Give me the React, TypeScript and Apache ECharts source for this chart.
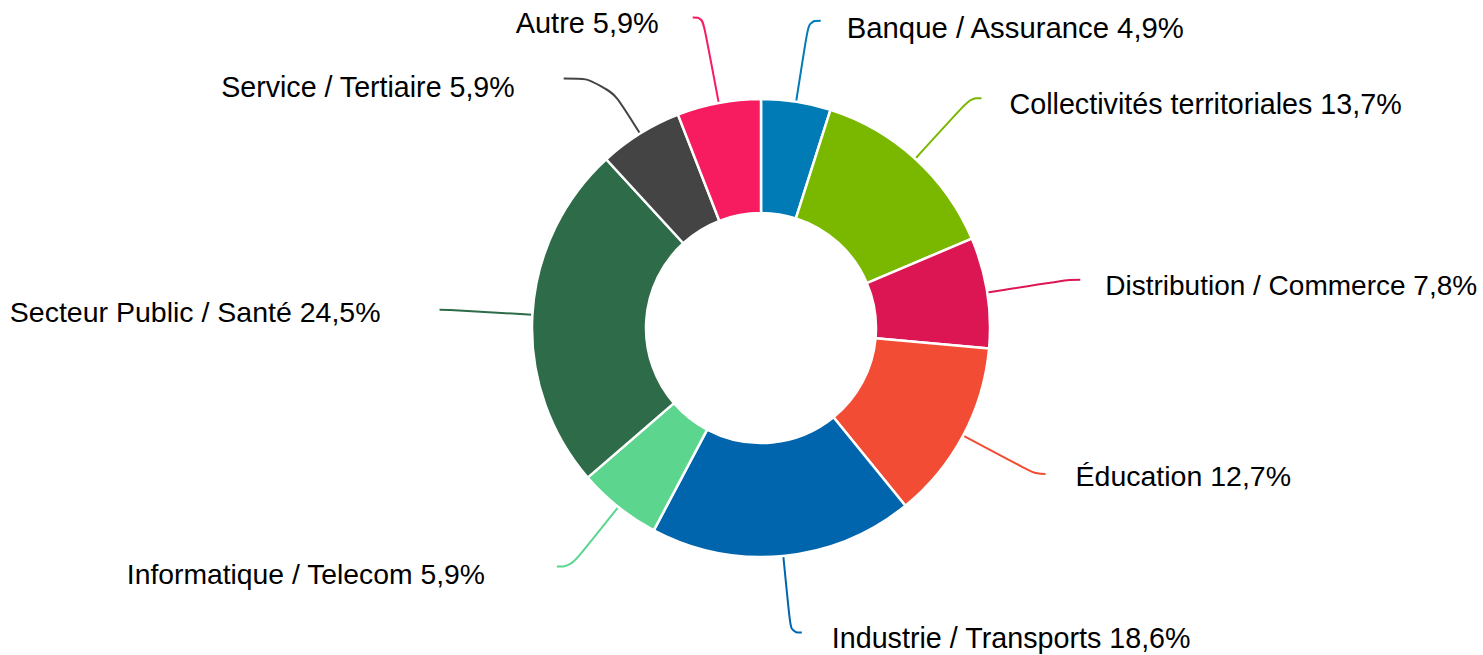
import { useEffect, useRef } from "react";
import * as echarts from "echarts";

const categories = [
  "Banque / Assurance",
  "Collectivités territoriales",
  "Distribution / Commerce",
  "Éducation",
  "Industrie / Transports",
  "Informatique / Telecom",
  "Secteur Public / Santé",
  "Service / Tertiaire",
  "Autre",
];
const shares = [4.9, 13.7, 7.8, 12.7, 18.6, 5.9, 24.5, 5.9, 5.9];

const sliceColors = [
  "#007bb6",
  "#7ab800",
  "#dc1653",
  "#f24d34",
  "#0065ad",
  "#5cd68e",
  "#2e6b48",
  "#444444",
  "#f71b5f",
];

// label line geometry per slice (style only)
const lineLength = [82, 82, 83, 82, 77, 76, 83, 65, 87];
const lineLength2 = [12, 11, 11, 10, 11, 14, 10, 42, 10];
const labelGap = [26, 28, 25, 30, 30, 72, 59, 49, 34];
const labelSize = [29.3, 28.7, 28, 28.5, 28.7, 28.3, 28.5, 28.6, 28.9];
const labelDrop = [14, 12, 12, 4, 10, 14, 4, 18, 12];

const fmt = (v: number) => v.toFixed(1).replace(".", ",") + "%";
const FONT = "'Liberation Sans', Arial, sans-serif";

export default function App() {
  const ref = useRef<HTMLDivElement>(null);

  useEffect(() => {
    if (!ref.current) return;
    const chart = echarts.init(ref.current, undefined, { renderer: "svg" });
    const data = categories.map((name, i) => ({
      name,
      value: shares[i],
      itemStyle: { color: sliceColors[i] },
      label: {
        distanceToLabelLine: labelGap[i],
        fontSize: labelSize[i],
        rich: {
          t: {
            fontSize: labelSize[i],
            fontFamily: FONT,
            color: "#000000",
            padding: [labelDrop[i], 0, 0, 0],
          },
        },
      },
      labelLine: { length: lineLength[i], length2: lineLength2[i] },
    }));
    chart.setOption({
      animation: false,
      backgroundColor: "#ffffff",
      series: [
        {
          type: "pie",
          center: [761, 328],
          radius: [115, 229],
          startAngle: 90,
          clockwise: true,
          avoidLabelOverlap: false,
          itemStyle: { borderColor: "#ffffff", borderWidth: 2.5 },
          label: {
            show: true,
            position: "outside",
            color: "#000000",
            fontFamily: FONT,
            fontSize: 28.5,
            bleedMargin: 0,
            overflow: "none",
            formatter: (p: any) => `{t|${p.name} ${fmt(p.value)}}`,
          },
          labelLine: {
            show: true,
            smooth: 0.45,
            lineStyle: { width: 2 },
          },
          emphasis: { disabled: true },
          data,
        },
      ],
    });
    return () => chart.dispose();
  }, []);

  return (
    <div
      ref={ref}
      style={{ position: "absolute", left: 0, top: 0, width: 1483, height: 655 }}
    />
  );
}
